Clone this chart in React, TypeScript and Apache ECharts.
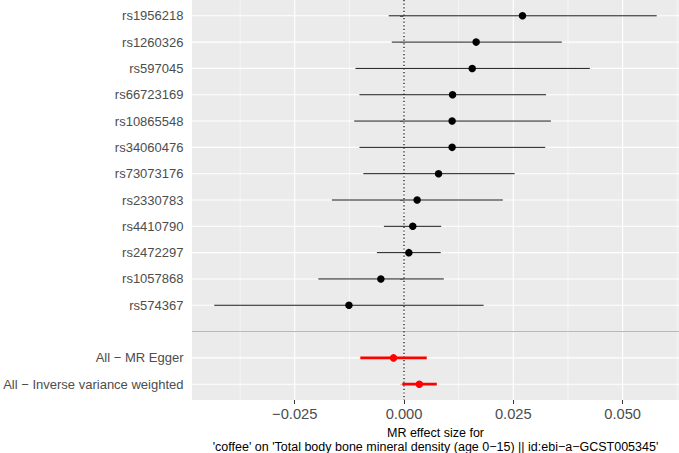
import { useEffect, useRef } from 'react';
import * as echarts from 'echarts';

// SNP-level estimates (top to bottom)
const snpNames = [
  'rs1956218', 'rs1260326', 'rs597045', 'rs66723169', 'rs10865548', 'rs34060476',
  'rs73073176', 'rs2330783', 'rs4410790', 'rs2472297', 'rs1057868', 'rs574367',
];
const snpBeta = [0.0271, 0.0165, 0.0156, 0.0111, 0.0110, 0.0110, 0.0079, 0.0030, 0.0020, 0.0011, -0.0053, -0.0126];
const snpLower = [-0.0035, -0.0028, -0.0111, -0.0102, -0.0114, -0.0102, -0.0093, -0.0165, -0.0046, -0.0062, -0.0196, -0.0434];
const snpUpper = [0.0578, 0.0361, 0.0425, 0.0325, 0.0336, 0.0323, 0.0253, 0.0226, 0.0085, 0.0084, 0.0091, 0.0182];

// Summary estimates
const summaryNames = ['All − MR Egger', 'All − Inverse variance weighted'];
const summaryBeta = [-0.0024, 0.0035];
const summaryLower = [-0.0100, -0.0004];
const summaryUpper = [0.0052, 0.0075];

// Axis breaks
const xMajorBreaks = [-0.025, 0, 0.025, 0.05];
const xMinorBreaks = [-0.0375, -0.0125, 0.0125, 0.0375, 0.0625];
const xMin = -0.0485;
const xMax = 0.0629;

const categories = [...snpNames, '', ...summaryNames];
const positions = categories.map((_, i) => i + 1);
const separatorPos = snpNames.length + 1;

const FONT = '"Liberation Sans", Arial, Helvetica, sans-serif';

export default function App() {
  const ref = useRef<HTMLDivElement>(null);

  useEffect(() => {
    const chart = echarts.init(ref.current!, null, { renderer: 'svg' });

    const vLine = (color: string, width: number, dash?: number[]) =>
      (params: any, api: any) => {
        const cs = params.coordSys;
        const x = api.coord([api.value(0), 1])[0];
        return {
          type: 'line',
          shape: { x1: x, y1: cs.y, x2: x, y2: cs.y + cs.height },
          style: { stroke: color, lineWidth: width, lineDash: dash },
        };
      };
    const hLine = (color: string, width: number) =>
      (params: any, api: any) => {
        const cs = params.coordSys;
        const y = api.coord([0, api.value(1)])[1];
        return {
          type: 'line',
          shape: { x1: cs.x, y1: y, x2: cs.x + cs.width, y2: y },
          style: { stroke: color, lineWidth: width },
        };
      };
    const errBar = (color: string, width: number) =>
      (_params: any, api: any) => {
        const p1 = api.coord([api.value(0), api.value(2)]);
        const p2 = api.coord([api.value(1), api.value(2)]);
        return {
          type: 'line',
          shape: { x1: p1[0], y1: p1[1], x2: p2[0], y2: p2[1] },
          style: { stroke: color, lineWidth: width },
        };
      };

    const fmtX = (v: number) => v.toFixed(3).replace('-', '−');

    const option: any = {
      animation: false,
      textStyle: { fontFamily: FONT },
      grid: {
        left: 192, right: 0, top: 0, bottom: 53,
        outerBoundsMode: 'none',
        containLabel: false,
        show: true, backgroundColor: '#EBEBEB', borderWidth: 0,
      },
      xAxis: {
        type: 'value', min: xMin, max: xMax,
        axisLine: { show: false },
        splitLine: { show: false },
        axisTick: { show: true, customValues: xMajorBreaks, length: 4, lineStyle: { color: '#333333', width: 1 } },
        axisLabel: { customValues: xMajorBreaks, formatter: fmtX, color: '#4D4D4D', fontSize: 14.7, margin: 6.5 },
        name: "MR effect size for\n'coffee' on 'Total body bone mineral density (age 0−15) || id:ebi−a−GCST005345'",
        nameLocation: 'middle',
        nameGap: 20,
        nameTextStyle: { fontSize: 12.5, color: '#000000', lineHeight: 13.5 },
      },
      yAxis: {
        type: 'value', inverse: true, min: 0.4, max: categories.length + 0.6,
        axisLine: { show: false },
        splitLine: { show: false },
        axisTick: { show: true, customValues: positions, length: 4, lineStyle: { color: '#333333', width: 1 } },
        axisLabel: {
          customValues: positions,
          formatter: (v: number) => categories[Math.round(v) - 1] ?? '',
          color: '#4D4D4D', fontSize: 13, margin: 8.5,
        },
      },
      series: [
        { type: 'custom', z: 1, silent: true, renderItem: vLine('#FFFFFF', 0.55), data: xMinorBreaks.map((v) => [v, 1]) },
        { type: 'custom', z: 1, silent: true, renderItem: vLine('#FFFFFF', 1.1), data: xMajorBreaks.map((v) => [v, 1]) },
        { type: 'custom', z: 1, silent: true, renderItem: hLine('#FFFFFF', 1.1), data: positions.map((p) => [0, p]) },
        { type: 'custom', z: 2, silent: true, renderItem: hLine('#B3B3B3', 1), data: [[0, separatorPos]] },
        { type: 'custom', z: 2, silent: true, renderItem: vLine('#000000', 1.2, [1.2, 2.4]), data: [[0, 1]] },
        {
          type: 'custom', z: 3, silent: true, renderItem: errBar('#1A1A1A', 1),
          encode: { x: [0, 1], y: 2 },
          data: snpNames.map((_, i) => [snpLower[i], snpUpper[i], i + 1]),
        },
        {
          type: 'custom', z: 3, silent: true, renderItem: errBar('#FF0000', 2.7),
          encode: { x: [0, 1], y: 2 },
          data: summaryNames.map((_, i) => [summaryLower[i], summaryUpper[i], separatorPos + 1 + i]),
        },
        {
          type: 'scatter', z: 4, symbol: 'circle', symbolSize: 7.5,
          itemStyle: { color: '#000000', opacity: 1 },
          data: snpNames.map((_, i) => [snpBeta[i], i + 1]),
        },
        {
          type: 'scatter', z: 4, symbol: 'circle', symbolSize: 7.5,
          itemStyle: { color: '#FF0000', opacity: 1 },
          data: summaryNames.map((_, i) => [summaryBeta[i], separatorPos + 1 + i]),
        },
      ],
    };

    chart.setOption(option);
    return () => chart.dispose();
  }, []);

  return (
    <div
      ref={ref}
      style={{ position: 'fixed', left: 0, top: 0, width: 679, height: 453, background: '#FFFFFF' }}
    />
  );
}
